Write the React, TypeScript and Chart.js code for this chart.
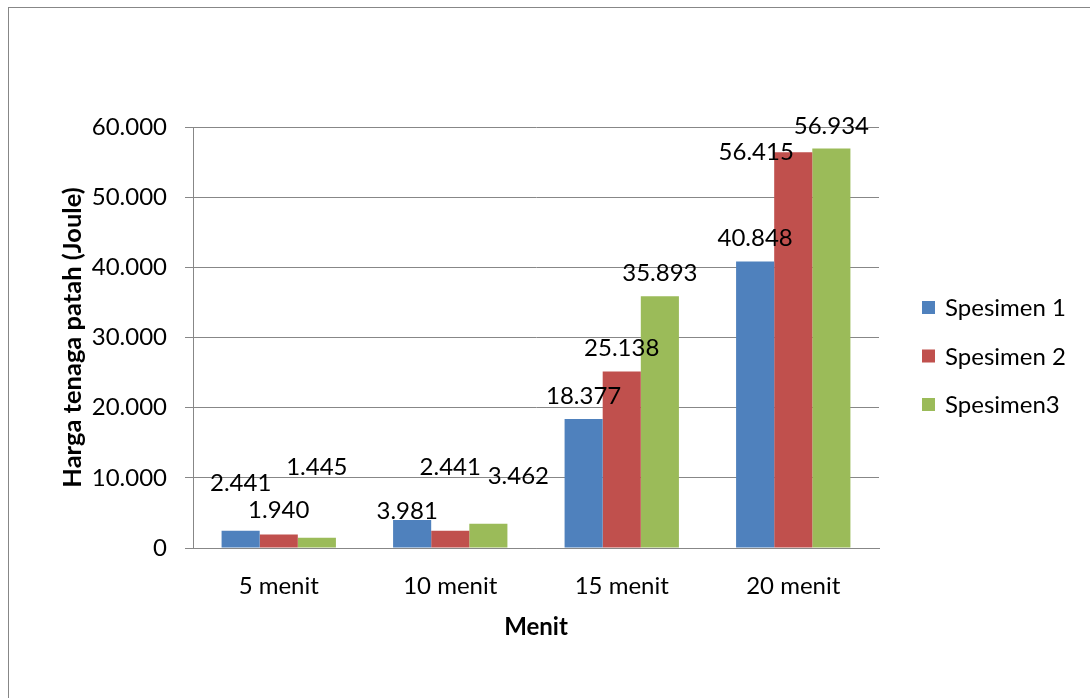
import React, { useEffect, useRef } from 'react';
import { Chart, registerables } from 'chart.js';

Chart.register(...registerables);

// Data
const categories = ['5 menit', '10 menit', '15 menit', '20 menit'];
const spesimen1 = [2.441, 3.981, 18.377, 40.848];
const spesimen2 = [1.94, 2.441, 25.138, 56.415];
const spesimen3 = [1.445, 3.462, 35.893, 56.934];
const seriesNames = ['Spesimen 1', 'Spesimen 2', 'Spesimen3'];
const yTickValues = [0, 10, 20, 30, 40, 50, 60];

// Appearance
const seriesColors = ['#4F81BD', '#C0504D', '#9BBB59'];
const FONT = 'Lato, "Noto Sans", sans-serif';
const FONT_SIZE = 24;
const Y_TITLE_SIZE = 25.5;
const LINE = '#878787';

// Value labels sit above their bar; some were dragged aside by hand ([dx, dy] px).
const labelShift1 = [[0, -24], [-5, 14], [0, 0], [0, 0]];
const labelShift2 = [[0, -1], [0, -40], [0, 0], [-37, 23]];
const labelShift3 = [[0, -47], [30, -24], [0, 0], [0, 1]];
const labelShifts = [labelShift1, labelShift2, labelShift3];

const fmt = (v: number) => (v === 0 ? '0' : v.toFixed(3));

const valueLabels = {
  id: 'valueLabels',
  afterDatasetsDraw(chart: any) {
    const ctx = chart.ctx;
    ctx.save();
    ctx.font = `${FONT_SIZE}px ${FONT}`;
    ctx.fillStyle = '#000';
    ctx.textAlign = 'center';
    ctx.textBaseline = 'alphabetic';
    chart.data.datasets.forEach((ds: any, di: number) => {
      const meta = chart.getDatasetMeta(di);
      meta.data.forEach((bar: any, i: number) => {
        const [dx, dy] = labelShifts[di][i];
        const cy = bar.y - 24 + dy;
        ctx.fillText(fmt(ds.data[i]), bar.x + dx, cy + 8.6);
      });
    });
    ctx.restore();
  },
};

const sideLegend = {
  id: 'sideLegend',
  afterDraw(chart: any) {
    const { ctx, chartArea } = chart;
    const x0 = chartArea.right + 43;
    const cy = (chartArea.top + chartArea.bottom) / 2 + 18.5;
    ctx.save();
    ctx.font = `${FONT_SIZE}px ${FONT}`;
    ctx.textAlign = 'left';
    ctx.textBaseline = 'alphabetic';
    chart.data.datasets.forEach((ds: any, i: number) => {
      const y = cy + (i - 1) * 48.5;
      ctx.fillStyle = ds.backgroundColor;
      ctx.fillRect(x0, y - 6.5, 13, 13);
      ctx.fillStyle = '#000';
      ctx.fillText(ds.label, x0 + 23, y + 8.6);
    });
    ctx.restore();
  },
};

export default function App() {
  const canvasRef = useRef<HTMLCanvasElement>(null);

  useEffect(() => {
    const canvas = canvasRef.current;
    if (!canvas) return;
    const seriesValues = [spesimen1, spesimen2, spesimen3];
    const chart = new Chart(canvas, {
      type: 'bar',
      data: {
        labels: categories,
        datasets: seriesValues.map((vals, i) => ({
          label: seriesNames[i],
          data: vals,
          backgroundColor: seriesColors[i],
          borderWidth: 0,
          categoryPercentage: 3 / 4.5,
          barPercentage: 1,
        })),
      },
      options: {
        responsive: false,
        animation: false,
        devicePixelRatio: 1,
        layout: { padding: { left: 48.7, right: 211, top: 119, bottom: 56.6 } },
        plugins: {
          legend: { display: false },
          tooltip: { enabled: false },
        },
        scales: {
          x: {
            grid: { display: false },
            border: { display: true, color: LINE, width: 1 },
            ticks: { color: '#000', font: { family: FONT, size: FONT_SIZE }, padding: 16, maxRotation: 0 },
            title: {
              display: true,
              text: 'Menit',
              color: '#000',
              font: { family: FONT, size: FONT_SIZE, weight: 'bold' },
              padding: 0,
            },
            afterFit(scale: any) {
              scale.height = 93.4;
            },
          },
          y: {
            min: 0,
            max: 60,
            afterBuildTicks(scale: any) {
              scale.ticks = yTickValues.map((v) => ({ value: v }));
            },
            grid: { color: LINE, lineWidth: 1, tickLength: 8, drawTicks: true },
            border: { display: true, color: LINE, width: 1 },
            ticks: {
              color: '#000',
              font: { family: FONT, size: FONT_SIZE },
              padding: 18,
              callback: (v: any) => fmt(Number(v)),
            },
            title: {
              display: true,
              text: 'Harga tenaga patah (Joule)',
              color: '#000',
              font: { family: FONT, size: Y_TITLE_SIZE, weight: 'bold' },
              padding: 0,
            },
            afterFit(scale: any) {
              scale.width = 135.3;
            },
          },
        },
      },
      plugins: [valueLabels, sideLegend],
    });
    if ((document as any).fonts && (document as any).fonts.ready) {
      (document as any).fonts.ready.then(() => chart.update());
    }
    return () => chart.destroy();
  }, []);

  return (
    <div
      style={{
        position: 'absolute',
        left: 8,
        top: 7,
        width: 1082,
        height: 691,
        boxSizing: 'border-box',
        borderLeft: `1px solid ${LINE}`,
        borderTop: `1px solid ${LINE}`,
        background: '#fff',
      }}
    >
      <canvas ref={canvasRef} width={1081} height={690} style={{ display: 'block', width: 1081, height: 690 }} />
    </div>
  );
}
